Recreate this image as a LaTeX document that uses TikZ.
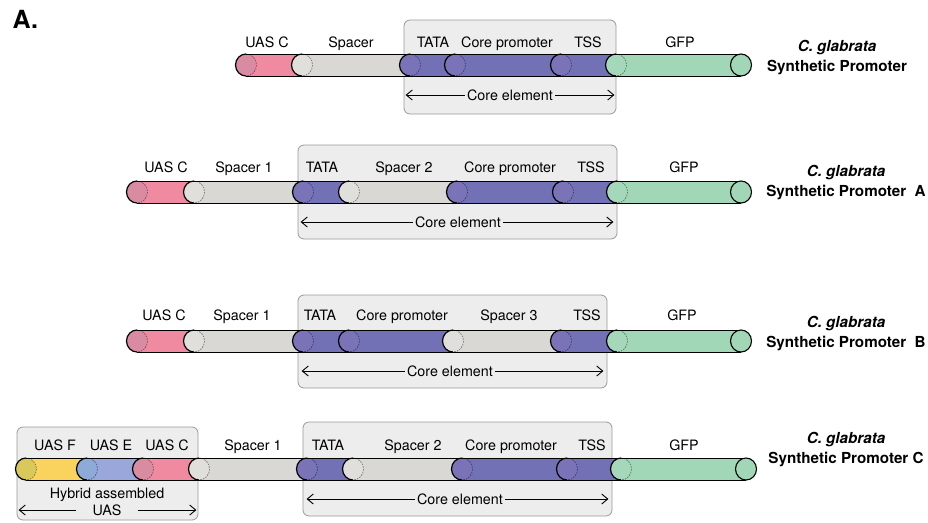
\documentclass[tikz,border=0pt]{standalone}
\usepackage{fontspec}
\setmainfont{TeX Gyre Heros}
\usetikzlibrary{arrows.meta, positioning}

\definecolor{uasC}{HTML}{F08AA0}   \definecolor{uasCcap}{HTML}{D98BA2}
\definecolor{uasE}{HTML}{99A7DA}   \definecolor{uasEcap}{HTML}{8EAAD8}
\definecolor{uasF}{HTML}{F9D35E}   \definecolor{uasFcap}{HTML}{D8C95A}
\definecolor{spacer}{HTML}{D9D8D5} \definecolor{spacercap}{HTML}{E1DFDC}
\definecolor{core}{HTML}{7371B6}   \definecolor{corecap}{HTML}{7B73B8}
\definecolor{gfp}{HTML}{A1D6B6}    \definecolor{gfpcap}{HTML}{A5D8BA}
\definecolor{boxfill}{HTML}{EDEDED}

% one piece of the tube: from x, to x, y, colour
\newcommand{\tubeseg}[4]{%
  \fill[#4] (#1,#3-11) rectangle (#2,#3+11);
  \fill[#4cap] (#1,#3) ellipse [x radius=10.5, y radius=11];
  \draw[capback, draw=#4!55!black] (#1,#3-11)
     arc [start angle=270, end angle=450, x radius=10.5, y radius=11];
  \draw[capfront] (#1,#3+11)
     arc [start angle=90, end angle=270, x radius=10.5, y radius=11];
}

\begin{document}
\begin{tikzpicture}[%
    x=1pt, y=-1pt,                          % pixel grid of the figure
    >={Straight Barb[length=6pt,width=10pt]}, % open arrow heads
    ]

\tikzset{
  lbl/.style={anchor=base, inner sep=0pt, font=\fontsize{14.3}{17}\selectfont},
  coretxt/.style={font=\fontsize{14.3}{17}\selectfont, fill=boxfill, inner xsep=2pt},
  elemarrow/.style={->, line width=0.9pt},
  title/.style={align=center, font=\fontsize{15.2}{20}\selectfont\bfseries},
  groupbox/.style={draw=black!40, fill=boxfill, rounded corners=6pt, line width=0.8pt},
  tubeline/.style={line width=1pt},
  capfront/.style={line width=1.2pt},
  capback/.style={line width=0.7pt, dash pattern=on 1.6pt off 1.2pt},
  endcap/.style={fill=gfp, draw=black, line width=1.1pt}
  };

\useasboundingbox (0,0) rectangle (928,522);

\node[anchor=base west, font=\fontsize{25}{25}\selectfont\bfseries] (panel) at (9,28) {A.};

% Synthetic Promoter
\node[groupbox, minimum width=212pt, minimum height=94pt] (core1) at (510,67) {};
\tubeseg{246}{302}{65}{uasC}
\tubeseg{302}{410}{65}{spacer}
\tubeseg{410}{455}{65}{core}
\tubeseg{455}{561}{65}{core}
\tubeseg{561}{616}{65}{core}
\tubeseg{616}{741}{65}{gfp}
\draw[tubeline] (246,54) -- (741,54) (246,76) -- (741,76);
\filldraw[endcap] (741,65) ellipse [x radius=10.5, y radius=11];

\node[lbl] (uasC1) at (267,47) {UAS C};
\node[lbl] (spacerA1) at (351,47) {Spacer};
\node[lbl] (tata1) at (433,47) {TATA};
\node[lbl] (prom1) at (507,47) {Core promoter};
\node[lbl] (tss1) at (588,47) {TSS};
\node[lbl] (gfp1) at (680,47) {GFP};

\node[coretxt] (elem1) at (510,95) {Core element};
\draw[elemarrow, shorten >=2pt] (elem1.west) -- (core1.west |- elem1.west);
\draw[elemarrow, shorten >=2pt] (elem1.east) -- (core1.east |- elem1.east);

\node[title] (name1) at (837,58) {\textit{C. glabrata}\\Synthetic Promoter};

% Synthetic Promoter A
\node[groupbox, minimum width=319pt, minimum height=94pt] (core2) at (457.5,192) {};
\tubeseg{137}{194}{192}{uasC}
\tubeseg{194}{303}{192}{spacer}
\tubeseg{303}{349}{192}{core}
\tubeseg{349}{457}{192}{spacer}
\tubeseg{457}{563}{192}{core}
\tubeseg{563}{617}{192}{core}
\tubeseg{617}{741}{192}{gfp}
\draw[tubeline] (137,181) -- (741,181) (137,203) -- (741,203);
\filldraw[endcap] (741,192) ellipse [x radius=10.5, y radius=11];

\node[lbl] (uasC2) at (166,172) {UAS C};
\node[lbl] (spacerA2) at (244,172) {Spacer 1};
\node[lbl] (tata2) at (322,172) {TATA};
\node[lbl] (spacerB2) at (404,172) {Spacer 2};
\node[lbl] (prom2) at (510,172) {Core promoter};
\node[lbl] (tss2) at (591,172) {TSS};
\node[lbl] (gfp2) at (684,172) {GFP};

\node[coretxt] (elem2) at (458,222) {Core element};
\draw[elemarrow, shorten >=3pt] (elem2.west) -- (core2.west |- elem2.west);
\draw[elemarrow, shorten >=4pt] (elem2.east) -- (core2.east |- elem2.east);

\node[title] (name2) at (846,183) {\textit{C. glabrata}\\Synthetic Promoter~~A};

% Synthetic Promoter B
\node[groupbox, minimum width=309pt, minimum height=93pt] (core3) at (452.5,341.5) {};
\tubeseg{137}{194}{341}{uasC}
\tubeseg{194}{303}{341}{spacer}
\tubeseg{303}{349}{341}{core}
\tubeseg{349}{453}{341}{core}
\tubeseg{453}{561}{341}{spacer}
\tubeseg{561}{617}{341}{core}
\tubeseg{617}{741}{341}{gfp}
\draw[tubeline] (137,330) -- (741,330) (137,352) -- (741,352);
\filldraw[endcap] (741,341) ellipse [x radius=10.5, y radius=11];

\node[lbl] (uasC3) at (164,320) {UAS C};
\node[lbl] (spacerA3) at (242,320) {Spacer 1};
\node[lbl] (tata3) at (320,320) {TATA};
\node[lbl] (prom3) at (402,320) {Core promoter};
\node[lbl] (spacerC3) at (509,320) {Spacer 3};
\node[lbl] (tss3) at (587,320) {TSS};
\node[lbl] (gfp3) at (682,320) {GFP};

\node[coretxt] (elem3) at (450,371) {Core element};
\draw[elemarrow, shorten >=4pt] (elem3.west) -- (core3.west |- elem3.west);
\draw[elemarrow, shorten >=4pt] (elem3.east) -- (core3.east |- elem3.east);

\node[title] (name3) at (846,334) {\textit{C. glabrata}\\Synthetic Promoter~~B};

% Synthetic Promoter C
\node[groupbox, minimum width=181pt, minimum height=93pt] (uasBox) at (107.5,473.5) {};
\node[groupbox, minimum width=309pt, minimum height=94pt] (core4) at (457.5,469) {};
\tubeseg{26}{87}{469}{uasF}
\tubeseg{87}{143}{469}{uasE}
\tubeseg{143}{199}{469}{uasC}
\tubeseg{199}{307}{469}{spacer}
\tubeseg{307}{353}{469}{core}
\tubeseg{353}{462}{469}{spacer}
\tubeseg{462}{567}{469}{core}
\tubeseg{567}{621}{469}{core}
\tubeseg{621}{746}{469}{gfp}
\draw[tubeline] (26,458) -- (746,458) (26,480) -- (746,480);
\filldraw[endcap] (746,469) ellipse [x radius=10.5, y radius=11];

\node[lbl] (uasF4) at (55,450) {UAS F};
\node[lbl] (uasE4) at (111,450) {UAS E};
\node[lbl] (uasC4) at (167,450) {UAS C};
\node[lbl] (spacerA4) at (253,450) {Spacer 1};
\node[lbl] (tata4) at (328,450) {TATA};
\node[lbl] (spacerB4) at (413,450) {Spacer 2};
\node[lbl] (prom4) at (511,450) {Core promoter};
\node[lbl] (tss4) at (592,450) {TSS};
\node[lbl] (gfp4) at (684,450) {GFP};

\node[coretxt] (elem4) at (460,499) {Core element};
\draw[elemarrow, shorten >=4pt] (elem4.west) -- (core4.west |- elem4.west);
\draw[elemarrow, shorten >=4pt] (elem4.east) -- (core4.east |- elem4.east);

\node[lbl, anchor=center] (hybrid) at (107,495) {Hybrid assembled};
\node[coretxt, inner xsep=16pt, fill=none] (uasName) at (107,510) {UAS};
\draw[elemarrow, shorten >=2pt] (uasName.west) -- (uasBox.west |- uasName.west);
\draw[elemarrow, shorten >=2pt] (uasName.east) -- (uasBox.east |- uasName.east);

\node[title] (name4) at (846,450) {\textit{C. glabrata}\\Synthetic Promoter C};

\end{tikzpicture}
\end{document}
